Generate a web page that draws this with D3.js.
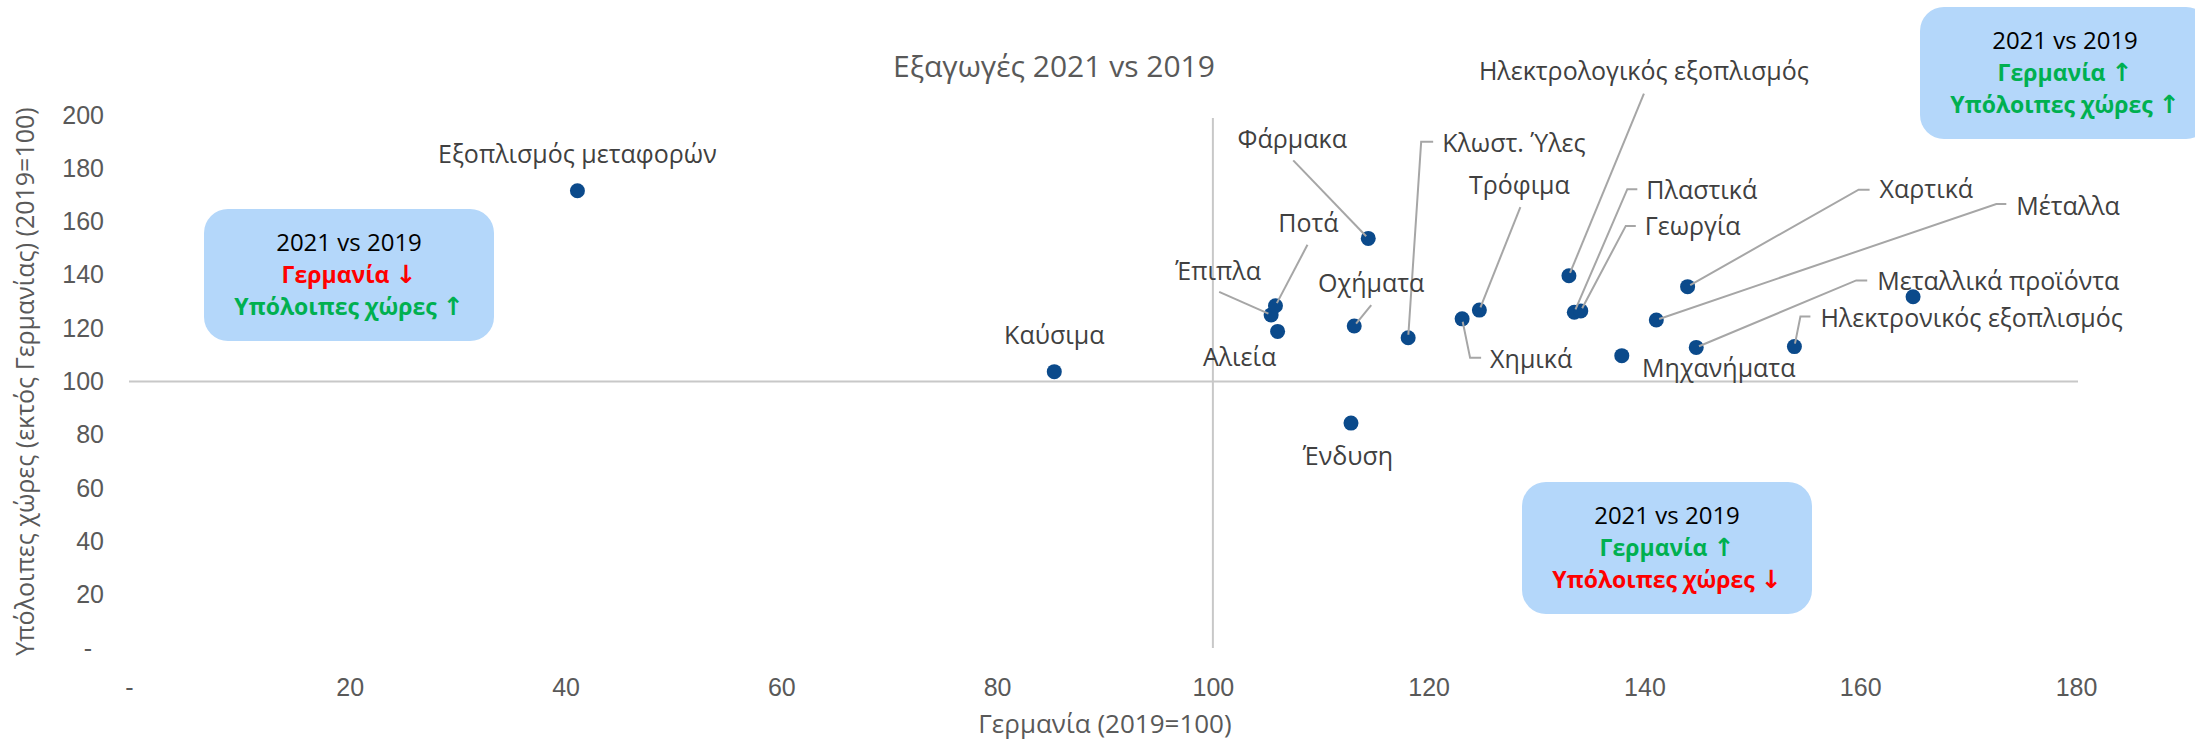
<!DOCTYPE html>
<html>
<head>
<meta charset="utf-8">
<script src="https://cdn.jsdelivr.net/npm/d3@7"></script>
<style>
  body { margin: 0; background: #fff; }
  svg { display: block; font-family: "Open Sans", sans-serif; }
  .axis .tick text { fill: #595959; font-size: 25px; }
  .axis .domain { display: none; }
  .label { fill: #404040; font-size: 25px; }
  .title { fill: #595959; font-size: 30px; }
  .axis-title { fill: #595959; font-size: 26px; }
  .leader { fill: none; stroke: #a6a6a6; stroke-width: 2px; }
  .cross { stroke: #c8c8c8; stroke-width: 2px; }
  .box rect { fill: #b4d7fa; }
  .box text { font-size: 23px; text-anchor: middle; }
  .box .arrow { font-family: "DejaVu Sans", sans-serif; font-size: 25px; font-weight: bold; }
</style>
</head>
<body>
<div id="chart"></div>
<script>

// categories and values (2019 = 100)
var categories = [
  "Εξοπλισμός μεταφορών", "Καύσιμα", "Έπιπλα", "Ποτά", "Αλιεία", "Φάρμακα",
  "Οχήματα", "Κλωστ. Ύλες", "Χημικά", "Τρόφιμα", "Ηλεκτρολογικός εξοπλισμός",
  "Πλαστικά", "Γεωργία", "Χαρτικά", "Μέταλλα", "Μηχανήματα",
  "Μεταλλικά προϊόντα", "Ηλεκτρονικός εξοπλισμός", "", "Ένδυση"
];
var germany = [41.1, 85.3, 105.4, 105.8, 106.0, 114.4, 113.1, 118.1, 123.1, 124.7,
               133.0, 133.5, 134.1, 144.0, 141.1, 137.9, 144.8, 153.9, 164.9, 112.8];
var others  = [171.6, 103.7, 125.0, 128.4, 118.8, 153.7, 120.8, 116.4, 123.5, 126.8,
               139.7, 126.0, 126.5, 135.6, 123.1, 109.7, 112.8, 113.1, 131.8, 84.4];

var xTicks = [0, 20, 40, 60, 80, 100, 120, 140, 160, 180];
var yTicks = [0, 20, 40, 60, 80, 100, 120, 140, 160, 180, 200];

var chartTitle = "Εξαγωγές 2021 vs 2019";
var xTitle = "Γερμανία (2019=100)";
var yTitle = "Υπόλοιπες χώρες (εκτός Γερμανίας) (2019=100)";

// quadrant notes: is germany / the rest up?
var notes = [
  {de: false, rest: true},
  {de: true,  rest: false},
  {de: true,  rest: true}
];

// label placement, pixel offsets from the point (moved by hand in the original)
var labelLayout = [
  {dx: 0,   dy: -36,  anchor: "middle"},
  {dx: 0,   dy: -36,  anchor: "middle"},
  {dx: -53, dy: -44,  anchor: "middle", leader: [[-52, -23]]},
  {dx: 33,  dy: -83,  anchor: "middle", leader: [[32, -61]]},
  {dx: -38, dy: 26,   anchor: "middle"},
  {dx: -76, dy: -99,  anchor: "middle", leader: [[-75, -78]]},
  {dx: 17,  dy: -43,  anchor: "middle", leader: [[17, -21]]},
  {dx: 34,  dy: -195, anchor: "start",  leader: [[25, -196], [13, -196]]},
  {dx: 28,  dy: 40,   anchor: "start",  leader: [[19, 39], [8, 39]]},
  {dx: 40,  dy: -125, anchor: "middle", leader: [[41, -103]]},
  {dx: 75,  dy: -204, anchor: "middle", leader: [[75, -182]]},
  {dx: 72,  dy: -122, anchor: "start",  leader: [[63, -123], [53, -123]]},
  {dx: 64,  dy: -85,  anchor: "start",  leader: [[55, -85], [45, -85]]},
  {dx: 192, dy: -97,  anchor: "start",  leader: [[182, -97], [171, -97]]},
  {dx: 360, dy: -114, anchor: "start",  leader: [[350, -116], [340, -116]]},
  {dx: 97,  dy: 13,   anchor: "middle"},
  {dx: 181, dy: -66,  anchor: "start",  leader: [[171, -67], [160, -67]]},
  {dx: 26,  dy: -28,  anchor: "start",  leader: [[16, -30], [6, -30]]},
  null,
  {dx: -3,  dy: 33,   anchor: "middle"}
];

// note boxes [left, top] in px
var boxPos = [[204, 209], [1522, 482], [1920, 7]];

function plotScatter(id, width, height) {
  var margin = {top: 115, right: 119, bottom: 94, left: 134};
  var graphWidth = width - margin.left - margin.right;
  var graphHeight = height - margin.top - margin.bottom;

  var svg = d3.select(id)
    .append("svg")
    .attr("width", width)
    .attr("height", height);

  var g = svg.append("g")
    .attr("transform", "translate(" + margin.left + "," + margin.top + ")");

  var x = d3.scaleLinear().domain([0, 180]).range([0, graphWidth]);
  var y = d3.scaleLinear().domain([0, 200]).range([graphHeight, 0]);

  var fmt = function(d) { return d === 0 ? "-" : d; };

  // axes (labels low, lines cross at 100)
  var xa = g.append("g")
    .attr("class", "x axis")
    .attr("transform", "translate(0," + graphHeight + ")")
    .call(d3.axisBottom(x).tickValues(xTicks).tickSize(0).tickPadding(30).tickFormat(fmt));
  xa.selectAll(".tick text").filter(function(d) { return d === 0; }).attr("dx", -5);

  var ya = g.append("g")
    .attr("class", "y axis")
    .call(d3.axisLeft(y).tickValues(yTicks).tickSize(0).tickPadding(30).tickFormat(fmt));
  ya.selectAll(".tick text").filter(function(d) { return d === 0; }).attr("dx", -12);

  g.append("line")
    .attr("class", "cross")
    .attr("x1", x(0) - 5).attr("x2", x(180) + 2)
    .attr("y1", y(100)).attr("y2", y(100));

  g.append("line")
    .attr("class", "cross")
    .attr("x1", x(100)).attr("x2", x(100))
    .attr("y1", y(0)).attr("y2", y(200) + 3);

  // titles
  g.append("text")
    .attr("class", "title")
    .attr("x", 1054 - margin.left)
    .attr("y", 66 - margin.top)
    .attr("dy", "0.35em")
    .style("text-anchor", "middle")
    .text(chartTitle);

  g.append("text")
    .attr("class", "axis-title")
    .attr("x", graphWidth / 2)
    .attr("y", graphHeight + 76)
    .attr("dy", "0.35em")
    .style("text-anchor", "middle")
    .text(xTitle);

  g.append("text")
    .attr("class", "axis-title")
    .attr("transform", "rotate(-90)")
    .attr("x", 0 - graphHeight / 2)
    .attr("y", 25 - margin.left)
    .attr("dy", "0.35em")
    .style("text-anchor", "middle")
    .style("font-size", "25px")
    .text(yTitle);

  var data = categories.map(function(c, i) {
    return {name: c, de: germany[i], rest: others[i], lay: labelLayout[i]};
  });

  // points
  g.selectAll(".dot")
    .data(data)
    .enter()
    .append("circle")
    .attr("class", "dot")
    .attr("r", 7.5)
    .attr("cx", function(d) { return x(d.de); })
    .attr("cy", function(d) { return y(d.rest); })
    .style("fill", "#0b4a8b");

  var labelled = data.filter(function(d) { return d.lay; });

  // leader lines
  g.selectAll(".leader")
    .data(labelled.filter(function(d) { return d.lay.leader; }))
    .enter()
    .append("path")
    .attr("class", "leader")
    .attr("d", function(d) {
      var px = x(d.de), py = y(d.rest);
      var pts = d.lay.leader.map(function(p) { return [px + p[0], py + p[1]]; });
      var last = pts[pts.length - 1];
      var ang = Math.atan2(last[1] - py, last[0] - px);
      pts.push([px + 3 * Math.cos(ang), py + 3 * Math.sin(ang)]);
      return d3.line()(pts);
    });

  g.selectAll(".label")
    .data(labelled)
    .enter()
    .append("text")
    .attr("class", "label")
    .attr("x", function(d) { return x(d.de) + d.lay.dx; })
    .attr("y", function(d) { return y(d.rest) + d.lay.dy; })
    .attr("dy", "0.35em")
    .style("text-anchor", function(d) { return d.lay.anchor; })
    .text(function(d) { return d.name; });

  // quadrant notes
  var boxes = svg.selectAll(".box")
    .data(notes)
    .enter()
    .append("g")
    .attr("class", "box")
    .attr("transform", function(d, i) { return "translate(" + boxPos[i] + ")"; });

  boxes.append("rect")
    .attr("width", 290)
    .attr("height", 132)
    .attr("rx", 24);

  boxes.append("text")
    .attr("x", 145).attr("y", 34).attr("dy", "0.35em")
    .style("fill", "#000")
    .style("font-size", "24px")
    .text("2021 vs 2019");

  var de = boxes.append("text")
    .attr("x", 145).attr("y", 66).attr("dy", "0.35em")
    .style("font-weight", "bold")
    .style("fill", function(d) { return d.de ? "#00b050" : "#ff0000"; });
  de.append("tspan").text("Γερμανία ");
  de.append("tspan").attr("class", "arrow")
    .text(function(d) { return d.de ? "↑" : "↓"; });

  var rest = boxes.append("text")
    .attr("x", 145).attr("y", 98).attr("dy", "0.35em")
    .style("font-weight", "bold")
    .style("fill", function(d) { return d.rest ? "#00b050" : "#ff0000"; });
  rest.append("tspan").text("Υπόλοιπες χώρες ");
  rest.append("tspan").attr("class", "arrow")
    .text(function(d) { return d.rest ? "↑" : "↓"; });
}

plotScatter("#chart", 2195, 742);
</script>
</body>
</html>
